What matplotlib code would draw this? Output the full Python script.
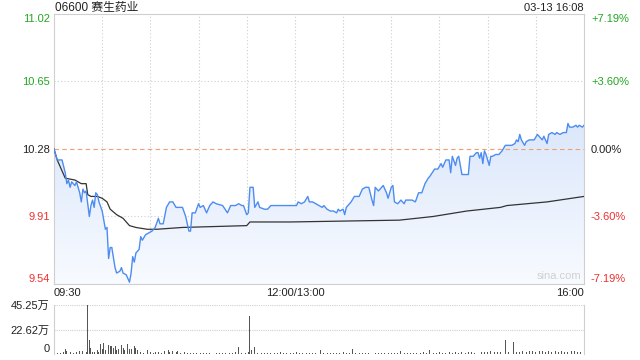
import numpy as np
import matplotlib
matplotlib.use("Agg")
import matplotlib.pyplot as plt
from matplotlib.colors import LinearSegmentedColormap

plt.rcParams['font.family'] = ['Liberation Sans', 'Noto Sans CJK SC', 'DejaVu Sans']

title = "06600 赛生药业"
stamp = "03-13 16:08"
prev_close = 10.28

# price line, minutes after 09:30 (lunch break removed)
price_min = [0, 2, 5, 7, 8, 9, 10, 11, 13, 14, 15, 16, 17, 18, 19, 20, 21, 22, 23, 24,
             25, 26, 27, 28, 30, 31, 32, 33, 34, 35, 36, 38, 39, 41, 42, 43, 45, 47, 48, 49,
             50, 51, 53, 54, 55, 57, 59, 61, 63, 65, 66, 68, 70, 72, 74, 76, 78, 80, 82, 84,
             85, 86, 88, 90, 91, 93, 95, 97, 99, 101, 105, 108, 110, 113, 115, 117, 118, 120, 121, 122,
             124, 125, 127, 128, 131, 133, 135, 146, 151, 152, 154, 156, 158, 159, 161, 165, 167, 168,
             170, 172, 174, 176, 177, 178, 180, 181, 182, 183, 185, 187, 190, 192, 194, 196, 198, 199,
             200, 202, 203, 205, 207, 208, 210, 211, 212, 214, 216, 218, 219, 223, 225, 227, 229, 231,
             233, 234, 237, 239, 241, 242, 244, 246, 247, 248, 250, 251, 252, 254, 256, 258, 259, 261,
             263, 264, 265, 266, 267, 268, 269, 271, 272, 273, 275, 277, 279, 281, 285, 287, 288, 289,
             290, 291, 293, 294, 296, 299, 301, 302, 304, 305, 307, 308, 310, 312, 313, 315, 317, 319,
             320, 321, 323, 325, 326, 327, 329, 330]
price = [10.28, 10.22, 10.22, 10.15, 10.09, 10.11, 10.07, 10.10, 10.08, 10.10, 10.07, 10.04, 9.99, 10.06, 10.04, 10.05, 9.98, 9.91, 9.97, 10.00,
         9.96, 10.04, 10.03, 9.99, 9.94, 9.89, 9.84, 9.85, 9.68, 9.74, 9.74, 9.63, 9.60, 9.61, 9.63, 9.60, 9.59, 9.55, 9.60, 9.69,
         9.66, 9.71, 9.73, 9.80, 9.78, 9.81, 9.82, 9.83, 9.85, 9.90, 9.87, 9.87, 9.96, 9.99, 9.99, 9.96, 9.96, 9.96, 9.91, 9.83,
         9.83, 9.93, 9.93, 9.98, 9.96, 9.97, 9.93, 9.97, 9.99, 9.98, 9.97, 9.93, 9.97, 9.97, 9.98, 9.97, 9.97, 9.92, 9.93, 10.07,
         10.07, 9.96, 9.99, 9.96, 9.95, 9.95, 9.97, 9.97, 9.97, 9.99, 9.98, 9.99, 10.02, 9.99, 9.99, 9.97, 9.96, 9.97,
         9.95, 9.94, 9.94, 9.93, 9.95, 9.94, 9.95, 9.92, 9.96, 9.97, 9.99, 10.02, 10.02, 10.06, 10.07, 10.07, 10.00, 9.97,
         10.07, 10.05, 10.06, 10.08, 10.04, 10.01, 10.07, 10.08, 9.99, 9.98, 10.00, 9.98, 10.00, 10.00, 9.99, 10.04, 10.04, 10.09,
         10.12, 10.13, 10.17, 10.17, 10.20, 10.18, 10.22, 10.22, 10.15, 10.24, 10.19, 10.23, 10.24, 10.14, 10.14, 10.14, 10.24, 10.24,
         10.26, 10.26, 10.23, 10.26, 10.20, 10.27, 10.25, 10.19, 10.24, 10.24, 10.25, 10.25, 10.27, 10.30, 10.30, 10.31, 10.33, 10.32,
         10.36, 10.33, 10.30, 10.32, 10.33, 10.33, 10.36, 10.35, 10.33, 10.35, 10.31, 10.36, 10.37, 10.36, 10.37, 10.36, 10.37, 10.37,
         10.42, 10.40, 10.40, 10.41, 10.40, 10.41, 10.40, 10.41]

# average price line
avg_min = [0, 2, 7, 13, 17, 20, 21, 23, 27, 30, 33, 35, 39, 43, 47, 51, 58, 64, 80, 120,
           122, 147, 215, 236, 257, 278, 282, 307, 330]
avg_price = [10.28, 10.22, 10.12, 10.11, 10.09, 10.09, 10.03, 10.02, 10.02, 10.01, 9.99, 9.95, 9.92, 9.90, 9.86, 9.85, 9.84, 9.84, 9.85, 9.86,
             9.88, 9.88, 9.89, 9.91, 9.94, 9.96, 9.97, 9.99, 10.02]

# volume in 万 shares
vol_min = [0, 2, 4, 6, 7, 8, 10, 12, 14, 16, 18, 20, 21, 22, 23, 24, 25, 27, 28, 29,
           30, 31, 32, 33, 34, 35, 36, 37, 38, 39, 40, 42, 43, 44, 46, 47, 48, 50, 51, 52,
           54, 56, 58, 60, 62, 63, 65, 67, 69, 71, 72, 74, 76, 77, 79, 81, 83, 85, 87, 89,
           91, 93, 95, 97, 99, 101, 103, 105, 107, 109, 111, 113, 115, 117, 119, 121, 122, 123, 125, 127,
           129, 131, 133, 135, 137, 139, 141, 143, 145, 147, 149, 151, 153, 155, 157, 159, 161, 163, 166, 168,
           170, 172, 174, 176, 178, 180, 182, 184, 186, 188, 190, 192, 194, 196, 198, 200, 202, 204, 206, 208,
           210, 212, 214, 216, 218, 220, 222, 224, 226, 228, 230, 232, 234, 236, 238, 240, 242, 244, 246, 248,
           250, 252, 254, 256, 258, 260, 262, 264, 266, 268, 270, 272, 274, 276, 278, 281, 283, 286, 288, 290,
           292, 294, 296, 298, 300, 302, 304, 306, 308, 310, 312, 314, 316, 318, 320, 322, 324, 326, 328, 330]
vol = [1.0, 0.8, 1.2, 2.0, 5.0, 2.5, 1.5, 1.0, 2.0, 3.0, 2.5, 1.5, 45.25, 13.0, 6.0, 2.0, 1.8, 3.9, 2.0, 9.0,
       5.0, 10.5, 3.9, 13.5, 8.5, 7.0, 7.0, 6.0, 7.0, 3.5, 5.0, 8.5, 6.0, 3.5, 9.0, 5.0, 5.0, 7.0, 5.5, 3.5,
       2.0, 1.2, 3.5, 1.5, 1.0, 2.0, 1.8, 1.0, 2.6, 3.5, 2.0, 2.6, 1.5, 2.6, 1.0, 1.5, 1.0, 0.8, 1.2, 1.0,
       0.8, 1.2, 0.8, 1.0, 0.8, 1.0, 1.2, 0.8, 1.0, 1.2, 1.0, 1.5, 6.5, 1.0, 1.2, 1.5, 35.0, 3.9, 6.5, 1.0,
       1.0, 0.8, 1.0, 1.2, 0.8, 1.0, 1.5, 0.8, 1.0, 1.2, 0.8, 1.5, 1.0, 0.8, 1.0, 1.2, 1.0, 0.8, 3.9, 1.0,
       1.2, 0.8, 1.0, 1.2, 1.0, 1.5, 0.8, 1.0, 4.4, 1.0, 1.2, 0.8, 1.0, 1.2, 1.0, 0.8, 1.0, 1.2, 1.0, 0.8,
       1.0, 1.2, 1.0, 2.6, 1.0, 0.8, 1.2, 1.0, 1.2, 1.0, 1.5, 1.0, 3.4, 1.0, 1.2, 1.5, 1.0, 1.2, 1.5, 1.2,
       1.5, 1.2, 1.5, 1.2, 1.5, 1.5, 1.2, 1.5, 2.0, 1.5, 2.0, 2.6, 1.5, 2.0, 1.5, 12.9, 1.5, 11.4, 1.5, 2.0,
       3.0, 2.0, 3.0, 2.5, 2.0, 3.0, 2.5, 2.0, 2.5, 2.0, 2.5, 2.0, 3.0, 2.0, 2.0, 3.0, 2.5, 2.0, 1.5, 15.4]

price_ticks = [11.02, 10.65, 10.28, 9.91, 9.54]
pct_ticks = ["+7.19%", "+3.60%", "0.00%", "-3.60%", "-7.19%"]
tick_colors = ["#22a722", "#22a722", "#222222", "#f03030", "#f03030"]
time_ticks = [0, 150, 330]
time_labels = ["09:30", "12:00/13:00", "16:00"]
vol_ticks = [45.25, 22.62, 0]
vol_labels = ["45.25万", "22.62万", "0"]

grid_c = "#cfcfcf"
fs = 8

fig = plt.figure(figsize=(6.4, 3.6), dpi=100)
ax = fig.add_axes([54 / 640, 1 - 284 / 360, 530 / 640, 270 / 360])
axv = fig.add_axes([54 / 640, 1 - 354 / 360, 530 / 640, 49 / 360])

# gradient fill below price line
poly = ax.fill_between(price_min, price, price_ticks[-1], color="none", lw=0)
cmap = LinearSegmentedColormap.from_list("f", ["#f8fbff", "#dbe7fb"])
grad = np.linspace(1, 0, 256).reshape(-1, 1)
img = ax.imshow(grad, extent=[0, 330, price_ticks[-1], max(price)], aspect="auto",
                cmap=cmap, vmin=0, vmax=1, zorder=1)
img.set_clip_path(poly.get_paths()[0], transform=ax.transData)

for k in range(1, 11):
    ax.axvline(k * 30, color=grid_c, ls=(0, (1, 2)), lw=0.8, zorder=0)
for p in [price_ticks[1], price_ticks[3]]:
    ax.axhline(p, color=grid_c, ls=(0, (1, 2)), lw=0.8, zorder=0)
ax.axhline(prev_close, color="#f0a070", ls=(0, (4, 3)), lw=0.8, zorder=2)

ax.plot(price_min, price, color="#4d8cf0", lw=1.0, zorder=4)
ax.plot(avg_min, avg_price, color="#333333", lw=0.9, zorder=3)

ax.set_xlim(0, 330)
ax.set_ylim(price_ticks[-1], price_ticks[0])
for s in ax.spines.values():
    s.set_color(grid_c)
    s.set_linewidth(0.8)

ax.set_yticks(price_ticks)
ax.set_yticklabels([f"{p:.2f}" for p in price_ticks], fontsize=fs)
ax.tick_params(axis="y", length=0, pad=3)
for lab, c in zip(ax.get_yticklabels(), tick_colors):
    lab.set_color(c)
ax.get_yticklabels()[0].set_va("top")
ax.get_yticklabels()[-1].set_va("bottom")

axr = ax.twinx()
axr.set_ylim(ax.get_ylim())
axr.set_yticks(price_ticks)
axr.set_yticklabels(pct_ticks, fontsize=fs)
axr.tick_params(axis="y", length=0, pad=5)
for lab, c in zip(axr.get_yticklabels(), tick_colors):
    lab.set_color(c)
axr.get_yticklabels()[0].set_va("top")
axr.get_yticklabels()[-1].set_va("bottom")
for s in axr.spines.values():
    s.set_visible(False)

ax.set_xticks(time_ticks)
ax.set_xticklabels(time_labels, fontsize=fs, color="#222222")
ax.tick_params(axis="x", length=0, pad=3)
ax.get_xticklabels()[0].set_ha("left")
ax.get_xticklabels()[-1].set_ha("right")

ax.text(0.002, 1.022, title, transform=ax.transAxes, fontsize=fs + 0.5, color="#222222",
        ha="left", va="center")
ax.text(1, 1.022, stamp, transform=ax.transAxes, fontsize=fs, color="#222222",
        ha="right", va="center")
ax.text(0.995, 0.01, "sina.com", transform=ax.transAxes, fontsize=fs, color="#d0d0d0",
        ha="right", va="bottom", zorder=5)

# volume panel
axv.bar(vol_min, vol, width=0.6, color="#555555", lw=0)
axv.set_xlim(0, 330)
axv.set_ylim(0, vol_ticks[0])
for p in vol_ticks[:2]:
    axv.axhline(p, color=grid_c, ls=(0, (1, 1)), lw=0.8, zorder=0)
for name in ["top", "bottom"]:
    axv.spines[name].set_visible(False)
for name in ["left", "right"]:
    axv.spines[name].set_color(grid_c)
    axv.spines[name].set_linewidth(0.8)
axv.axhline(0, color="#aaaaaa", lw=0.6)
axv.set_xticks([])
axv.set_yticks(vol_ticks)
axv.set_yticklabels(vol_labels, fontsize=fs, color="#222222")
axv.tick_params(axis="y", length=0, pad=3)
axv.get_yticklabels()[-1].set_va("bottom")

fig.savefig("out.png", dpi=100)
